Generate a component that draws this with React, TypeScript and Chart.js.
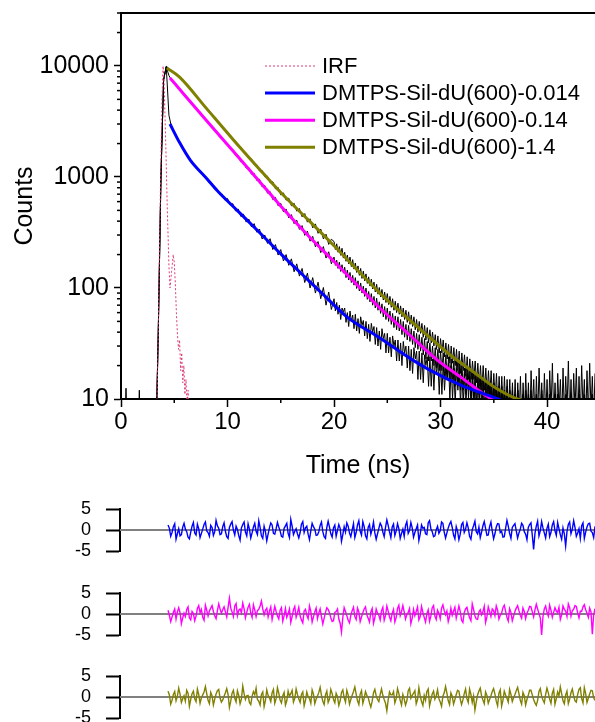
import React, { useEffect, useRef } from "react";
import { Chart, registerables } from "chart.js";

Chart.register(...registerables);

const FONT = "'Liberation Sans', Arial, Helvetica, sans-serif";

// ---------------- data ----------------
// acquisition channel times (ns)
const timeFine = [
  3.25, 3.375, 3.5, 3.625, 3.75, 3.875,
  4, 4.125, 4.25, 4.375, 4.5, 4.625, 4.75, 4.875,
  5, 5.125, 5.25, 5.375, 5.5, 5.625, 5.75, 5.875,
  6, 6.125, 6.25, 6.375, 6.5, 6.625, 6.75, 6.875,
  7, 7.125, 7.25, 7.375, 7.5, 7.625, 7.75, 7.875,
  8, 8.125, 8.25, 8.375, 8.5, 8.625, 8.75, 8.875,
  9, 9.125, 9.25, 9.375, 9.5, 9.625, 9.75, 9.875,
  10, 10.125, 10.25, 10.375, 10.5, 10.625, 10.75, 10.875,
  11, 11.125, 11.25, 11.375, 11.5, 11.625, 11.75, 11.875,
  12, 12.125, 12.25, 12.375, 12.5, 12.625, 12.75, 12.875,
  13, 13.125, 13.25, 13.375, 13.5, 13.625, 13.75, 13.875,
  14, 14.125, 14.25, 14.375, 14.5, 14.625, 14.75, 14.875,
  15, 15.125, 15.25, 15.375, 15.5, 15.625, 15.75, 15.875,
  16, 16.125, 16.25, 16.375, 16.5, 16.625, 16.75, 16.875,
  17, 17.125, 17.25, 17.375, 17.5, 17.625, 17.75, 17.875,
  18, 18.125, 18.25, 18.375, 18.5, 18.625, 18.75, 18.875,
  19, 19.125, 19.25, 19.375, 19.5, 19.625, 19.75, 19.875,
  20, 20.125, 20.25, 20.375, 20.5, 20.625, 20.75, 20.875,
  21, 21.125, 21.25, 21.375, 21.5, 21.625, 21.75, 21.875,
  22, 22.125, 22.25, 22.375, 22.5, 22.625, 22.75, 22.875,
  23, 23.125, 23.25, 23.375, 23.5, 23.625, 23.75, 23.875,
  24, 24.125, 24.25, 24.375, 24.5, 24.625, 24.75, 24.875,
  25, 25.125, 25.25, 25.375, 25.5, 25.625, 25.75, 25.875,
  26, 26.125, 26.25, 26.375, 26.5, 26.625, 26.75, 26.875,
  27, 27.125, 27.25, 27.375, 27.5, 27.625, 27.75, 27.875,
  28, 28.125, 28.25, 28.375, 28.5, 28.625, 28.75, 28.875,
  29, 29.125, 29.25, 29.375, 29.5, 29.625, 29.75, 29.875,
  30, 30.125, 30.25, 30.375, 30.5, 30.625, 30.75, 30.875,
  31, 31.125, 31.25, 31.375, 31.5, 31.625, 31.75, 31.875,
  32, 32.125, 32.25, 32.375, 32.5, 32.625, 32.75, 32.875,
  33, 33.125, 33.25, 33.375, 33.5, 33.625, 33.75, 33.875,
  34, 34.125, 34.25, 34.375, 34.5, 34.625, 34.75, 34.875,
  35, 35.125, 35.25, 35.375, 35.5, 35.625, 35.75, 35.875,
  36, 36.125, 36.25, 36.375, 36.5, 36.625, 36.75, 36.875,
  37, 37.125, 37.25, 37.375, 37.5, 37.625, 37.75, 37.875,
  38, 38.125, 38.25, 38.375, 38.5, 38.625, 38.75, 38.875,
  39, 39.125, 39.25, 39.375, 39.5, 39.625, 39.75, 39.875,
  40, 40.125, 40.25, 40.375, 40.5, 40.625, 40.75, 40.875,
  41, 41.125, 41.25, 41.375, 41.5, 41.625, 41.75, 41.875,
  42, 42.125, 42.25, 42.375, 42.5, 42.625, 42.75, 42.875,
  43, 43.125, 43.25, 43.375, 43.5, 43.625, 43.75, 43.875,
  44, 44.125, 44.25, 44.375, 44.5,
];
// decays are stored every 2nd channel before 20 ns, every channel after
const DECAY_FINE_START = 134; // index of 20 ns in timeFine
const RESID_START = 10; // index of 4.5 ns in timeFine

const preRiseTime = [0.3, 0.47, 0.62, 1.58, 1.72, 1.86];
const preRiseCounts = [4, 12.5, 4, 4, 12, 4];

// measured decay, DMTPS-Sil-dU(600)-0.014
const decayA = [
  3, 40, 1000, 7500, 9800, 3600,
  2790, 2560, 2250, 2070, 1830, 1720, 1540, 1450, 1310, 1270,
  1150, 1130, 1010, 995, 890, 885, 790, 785, 695, 700,
  620, 640, 560, 575, 495, 515, 440, 462, 392, 418,
  355, 380, 318, 340, 276, 300, 252, 278, 222, 246,
  198, 222, 175, 200, 160, 183, 140, 165, 128, 150,
  112, 136, 100, 124, 90, 113, 80, 101, 70, 92,
  64,
  80, 62, 74, 58, 70, 52, 66, 61,
  66, 49, 60, 45, 62, 50, 57, 43,
  58, 41, 53, 39, 55, 46, 51, 37,
  50, 35, 47, 33, 48, 40, 45, 31,
  44, 30, 41, 28, 43, 35, 39, 26,
  39, 26, 36, 24, 37, 30, 34, 22,
  34, 22, 32, 20, 33, 26, 30, 19,
  30, 18, 28, 17, 29, 23, 27, 15,
  27, 15, 26, 14, 25, 20, 24, 13,
  24, 13, 23, 12, 23, 17, 22, 11,
  22, 11, 21, 12, 20, 15, 21, 10,
  20, 10, 19, 9, 19, 13, 18, 9,
  18, 9, 17, 8, 17, 12, 16, 8,
  16, 8, 16, 7, 15, 11, 15, 7,
  15, 7, 14, 6, 14, 10, 13, 6,
  14, 6, 13, 6, 12, 9, 13, 5,
  12, 5, 13, 6, 11, 8, 12, 5,
  11, 5, 12, 6, 10, 8, 11, 4,
  12, 5, 10, 6, 11, 7, 10, 4,
  11, 5, 10, 5, 12, 7, 10, 4,
  10, 5, 11, 6, 10, 7, 11, 4,
  11, 5, 10, 6, 9, 7, 10, 5,
  10, 4, 11, 6, 10, 7, 9, 5,
  11, 5, 10, 6, 9, 7, 10, 4,
  10, 5, 11, 6, 9,
];
// measured decay, DMTPS-Sil-dU(600)-0.14
const decayB = [
  3, 40, 1000, 7500, 9800, 8200,
  7440, 7060, 6540, 6220, 5750, 5480, 5050, 4820, 4430, 4240,
  3890, 3730, 3400, 3290, 2990, 2900, 2620, 2570, 2300, 2270,
  2020, 2000, 1780, 1770, 1560, 1560, 1370, 1380, 1205, 1220,
  1060, 1080, 930, 955, 815, 840, 715, 740, 625, 655,
  550, 578, 485, 515, 428, 458, 380, 408, 337, 365,
  298, 325, 264, 292, 235, 262, 208, 236, 186, 212,
  165,
  190, 160, 178, 150, 171, 141, 162, 136,
  154, 124, 145, 118, 138, 112, 130, 106,
  124, 99, 116, 94, 111, 90, 104, 84,
  100, 79, 93, 75, 89, 70, 84, 66,
  81, 63, 75, 59, 72, 55, 68, 52,
  66, 50, 62, 47, 59, 44, 56, 42,
  55, 41, 52, 38, 50, 36, 47, 34,
  46, 33, 43, 31, 41, 29, 39, 28,
  38, 27, 36, 25, 35, 23, 33, 22,
  32, 22, 30, 20, 29, 19, 28, 18,
  27, 18, 26, 16, 25, 15, 24, 15,
  23, 15, 22, 13, 22, 12, 21, 12,
  20, 12, 19, 11, 19, 10, 18, 10,
  18, 10, 17, 9, 16, 9, 16, 8,
  15, 8, 15, 7, 14, 8, 13, 7,
  13, 7, 12, 6, 13, 6, 12, 6,
  12, 6, 11, 5, 12, 6, 11, 5,
  11, 5, 12, 6, 10, 5, 11, 5,
  10, 6, 11, 5, 12, 6, 10, 4,
  11, 5, 10, 6, 11, 5, 10, 5,
  10, 6, 11, 5, 10, 6, 11, 4,
  11, 5, 10, 6, 9, 5, 11, 5,
  10, 6, 11, 4, 10, 6, 9, 5,
  11, 5, 10, 6, 11, 5, 10, 4,
  10, 6, 11, 5, 9,
];
// measured decay, DMTPS-Sil-dU(600)-1.4
const decayC = [
  3, 40, 1000, 7500, 10000, 9400,
  9090, 8620, 8350, 7900, 7490, 6940, 6590, 6100, 5800, 5350,
  5100, 4700, 4490, 4120, 3950, 3620, 3480, 3180, 3060, 2790,
  2700, 2440, 2380, 2140, 2100, 1890, 1860, 1665, 1645, 1465,
  1455, 1290, 1290, 1135, 1145, 1005, 1015, 885, 905, 782,
  805, 690, 718, 618, 645, 550, 580, 492, 520, 438,
  468, 392, 420, 348, 378, 311, 340, 277, 305, 247,
  275,
  262, 222, 250, 210, 236, 197, 228, 186,
  210, 174, 198, 165, 190, 156, 180, 148,
  168, 138, 158, 130, 150, 122, 142, 116,
  134, 110, 126, 104, 120, 98, 113, 92,
  108, 88, 101, 83, 97, 78, 92, 74,
  89, 71, 84, 67, 80, 63, 76, 60,
  73, 58, 69, 55, 66, 52, 63, 49,
  61, 47, 57, 45, 55, 42, 52, 40,
  50, 39, 48, 36, 46, 34, 44, 32,
  42, 32, 40, 30, 38, 28, 37, 26,
  35, 26, 34, 24, 32, 23, 31, 21,
  30, 21, 29, 20, 28, 18, 27, 17,
  26, 18, 25, 16, 24, 15, 23, 15,
  22, 15, 22, 14, 21, 13, 20, 12,
  20, 12, 19, 11, 18, 11, 18, 10,
  17, 10, 17, 9, 16, 9, 16, 8,
  16, 8, 15, 8, 15, 7, 14, 7,
  15, 7, 14, 7, 16, 6, 14, 7,
  17, 7, 14, 6, 18, 8, 15, 6,
  16, 7, 19, 8, 14, 6, 17, 7,
  15, 6, 18, 8, 21, 7, 14, 6,
  17, 8, 15, 6, 19, 7, 16, 8,
  22, 7, 15, 6, 17, 8, 19, 6,
  16, 7, 20, 8, 15, 6, 18, 7,
  21, 8, 16, 6, 17,
];

// fitted curves
const fitATime = [4.6, 5.5, 6.5, 8, 9, 11, 13, 14.9, 17, 19, 21.2, 24.3, 27.4, 29, 32, 35.4, 35.8];
const fitA = [3000, 2040, 1420, 980, 760, 490, 316, 207, 133, 87, 55, 35.5, 22.4, 18.2, 13.2, 10, 9.6];
const fitBTime = [4.6, 6, 8, 10.5, 13, 14.9, 17.7, 20, 22.5, 24.3, 27, 29.7, 32, 34.8, 35.2];
const fitB = [7800, 5430, 3240, 1720, 912, 560, 288, 173, 99, 66, 38.5, 22.4, 15.5, 10, 9.7];
const fitCTime = [4.3, 5.5, 8, 10.5, 13, 15, 17.5, 20, 22.5, 24.3, 27, 30, 31, 33, 35, 37.2, 37.6];
const fitC = [9600, 7940, 4170, 2190, 1175, 724, 417, 240, 135, 90, 52.5, 29.5, 24.5, 17.8, 12.9, 10, 9.8];

// instrument response
const irfTime = [3.3, 3.45, 3.6, 3.75, 3.85, 3.95, 4.05, 4.2, 4.35, 4.5, 4.6, 4.75, 4.9, 5.0, 5.1, 5.2, 5.3, 5.4, 5.5, 5.6, 5.7, 5.8, 5.9, 6.0, 6.1, 6.2, 6.3, 6.4];
const irfCounts = [5, 20, 200, 1500, 5000, 10000, 7000, 2000, 500, 160, 100, 140, 200, 170, 110, 60, 38, 28, 34, 18, 26, 14, 20, 11, 15, 9, 12, 5];

// weighted residuals, timeFine from 4.5 ns on
const residA = [
  1.2, 0.4, -1.5, -0.6, 0.8, 1.5, -2.2, -0.9,
  0.3, -1.4, -1.1, 0.7, 1.6, 0.2, -0.4, -1.7,
  -2.1, -0.5, 0.9, 1.8, -0.7, -1.2, 1.4, 0.3,
  -1.8, -0.8, 0.2, 1.3, 1.9, -0.2, -0.6, -1.5,
  1.1, 0.6, -1.3, -0.4, 2.3, 1.0, 0.4, -1.1,
  -0.9, 0.8, 1.7, -0.3, -1.6, -2.0, 0.6, 1.4,
  2.0, -0.1, -1.2, 0.9, 0.1, -1.3, -2.4, 0.5,
  1.3, 1.9, -0.5, -1.4, 1.5, 0.2, -1.9, -0.7,
  0.7, 1.6, -0.3, -1.1, 2.2, 0.6, -1.4, -2.0,
  0.9, -0.4, -2.6, -1.0, 0.5, 1.7, 1.2, -0.8,
  -1.0, 0.3, 1.8, 0.7, -0.2, -1.5, -1.7, 0.4,
  1.0, 1.6, -0.8, -1.8, 2.5, 0.9, -1.1, -0.3,
  0.3, -0.9, -1.9, -0.6, 1.4, 2.0, -0.6, 0.5,
  0.9, -1.0, -2.3, -0.2, 1.6, 0.8, 0.2, -1.3,
  -1.2, -0.4, 1.1, 1.9, -0.4, -1.6, -2.0, 0.6,
  2.1, 0.7, -0.9, -1.7, 0.5, 1.2, -1.5, -0.1,
  1.3, 0.4, -2.7, -1.1, 0.8, -0.5, 1.7, 0.9,
  -0.7, -1.6, 0.0, 1.5, -1.8, -0.6, 1.2, 2.2,
  -0.3, -1.2, 2.0, 0.8, -1.4, -2.1, 0.6, 1.3,
  -1.0, 0.2, 1.9, -0.7, -2.2, -0.9, 0.4, 1.6,
  1.0, -0.5, -1.6, 0.6, 2.4, 1.1, -0.5, -1.8,
  0.7, 1.4, -1.3, -0.2, 1.5, 0.3, -2.0, -0.8,
  0.2, -1.5, 1.1, 2.0, -0.8, -0.1, 1.8, 0.5,
  -1.7, -0.6, 0.3, 1.2, -2.5, -1.0, 1.2, 0.4,
  0.6, -0.9, -1.1, 1.7, 2.2, 0.3, -0.4, -1.6,
  -1.4, 0.1, 0.9, -0.8, -0.2, 1.9, 1.6, -0.5,
  -1.9, -0.7, 0.5, 1.4, 2.0, 0.6, -1.2, -2.1,
  0.8, -0.3, -2.3, -1.0, 1.3, 1.8, -0.6, 0.2,
  1.7, 0.5, -1.5, -2.2, 0.1, 1.0, 2.1, -0.4,
  -0.9, 0.7, -1.8, -0.5, 1.0, 2.0, 0.4, -1.3,
  -1.2, 0.8, 1.9, -0.3, -2.1, -0.9, 0.7, 1.5,
  1.4, -0.6, -0.3, -1.7, -1.6, 0.4, 2.3, 0.9,
  -0.8, -2.0, 0.6, 1.1, 1.5, -0.2, -1.9, -0.7,
  0.2, 1.6, 1.1, -0.4, -1.0, -2.3, 0.6, 1.3,
  1.7, -1.2, -4.6, -0.8, 0.9, 2.1, -1.4, -0.2,
  2.0, 0.5, -0.7, -1.9, 0.4, 1.4, -1.6, -0.6,
  1.2, 2.0, -0.2, -1.3, 1.8, 0.3, -1.1, -2.2,
  0.5, -0.9, -3.8, -0.4, 1.3, 1.9, -0.9, 0.2,
  2.2, 0.6, -1.5, -0.7, 0.3, -2.0, 1.0, 1.7,
  -2.0, -0.5, 0.7, 1.5, 1.6, -0.3, -0.6, -1.8,
  0.9,
];
const residB = [
  0.9, -0.3, -1.8, -0.7, 0.4, 1.2, -1.2, 0.5,
  1.5, 0.3, -2.3, -0.9, 0.2, -0.6, 1.1, 1.7,
  -0.9, -1.4, 0.6, 0.1, -1.6, -0.5, 1.3, 2.0,
  0.3, 1.1, -0.8, -1.5, 2.1, 0.9, -0.5, 0.7,
  1.4, 2.0, 0.6, -0.4, -1.1, 0.8, 2.4, 1.2,
  0.2, 1.0, 1.7, 0.5, -0.7, 1.6, 3.8, 1.4,
  0.5, -0.6, 1.9, 2.5, -0.4, 0.9, 1.2, 0.3,
  2.6, 1.3, -0.9, 0.4, 1.6, 2.3, 0.3, -0.8,
  2.2, 1.0, -0.6, 0.8, 1.1, 1.9, 3.1, 1.2,
  -0.2, 0.9, 1.4, -0.7, 0.7, 1.7, -1.3, 0.2,
  1.8, 0.6, -0.5, -1.2, 0.9, 1.5, -1.7, -0.4,
  1.3, -0.8, 0.1, 1.2, -2.0, -0.6, 1.0, 1.8,
  -0.8, 0.3, 1.6, -0.5, -1.4, -2.1, 0.7, 1.1,
  -0.3, -1.1, 1.9, 0.6, -1.9, -0.7, 0.5, 1.4,
  -1.1, 0.2, 1.2, -0.6, -2.4, -1.0, 0.4, 1.5,
  1.1, 0.3, -0.9, -1.8, -1.6, 0.4, 0.6, 1.2,
  -1.2, -2.2, -4.3, -0.8, 1.5, 0.6, -0.4, -1.5,
  -2.1, -0.3, 0.8, 1.6, -0.6, -1.3, 1.4, 0.5,
  -1.8, -0.7, 0.3, 1.2, 1.7, -0.2, -1.0, -1.9,
  0.5, 1.3, -2.2, -0.9, 1.2, 0.2, -0.3, -1.4,
  0.8, 1.6, -1.5, -0.4, 1.9, 0.7, -0.7, -1.6,
  0.2, 1.1, -1.9, -0.8, 1.3, 2.1, -0.4, 0.6,
  2.0, 0.5, -1.2, -0.1, 0.4, 1.3, -2.3, -1.0,
  1.1, -0.4, 0.6, 1.7, -1.4, -0.6, 1.8, 0.4,
  -0.8, -1.9, 0.1, 1.0, -1.7, -0.5, 1.5, 2.0,
  -0.5, -1.3, 0.9, 0.2, -1.1, 1.4, 2.2, 0.8,
  -0.2, 0.7, -1.8, -0.6, 1.4, -0.3, 0.7, 1.6,
  -1.0, 0.4, 1.9, 0.6, -1.5, -2.0, 0.3, 1.2,
  1.6, 0.2, -0.9, -1.6, 2.4, 1.1, -0.4, -1.2,
  -1.3, 0.5, 1.0, -0.2, 0.5, 1.8, -2.0, -0.7,
  1.7, 0.6, -0.6, 1.2, 0.8, -0.4, 1.9, 0.9,
  -1.2, -0.3, 0.2, 1.5, 2.1, 0.7, -0.8, -1.7,
  1.3, 0.4, -1.6, -0.5, 0.6, 1.4, 2.0, 0.8,
  -0.3, -1.0, 1.4, 0.6, -1.1, 0.2, 0.9, 1.8,
  1.7, 0.5, -0.7, 1.0, 2.3, 1.2, 0.1, -0.9,
  -5.0, -0.6, 1.2, 1.9, 0.4, -0.5, 2.1, 0.9,
  -0.8, 0.4, 1.5, 0.7, 0.3, 1.6, -1.3, -0.2,
  1.9, 1.1, 0.7, -0.6, 2.4, 1.5, -0.5, 0.8,
  1.1, 2.0, 1.8, 0.3, -0.9, 0.7, 0.6, 1.7,
  2.2, 1.0, 0.2, -0.8, 1.4, 0.5, -4.8, -0.2,
  1.3,
];
const residC = [
  1.4, 0.5, -1.7, -0.8, 0.6, 1.3, -0.9, 0.2,
  2.1, 0.7, -1.3, -0.4, 0.3, -1.0, 1.6, 0.9,
  -2.2, -0.6, 0.8, 1.4, -0.4, -1.1, 1.9, 0.6,
  -1.5, -0.2, 0.5, 1.2, 2.5, 0.8, -0.8, -1.6,
  1.1, 0.3, -1.9, -0.5, 0.7, 1.5, 1.8, -0.3,
  -1.2, -0.7, 0.2, 1.0, 2.0, 0.6, -2.5, -1.0,
  0.9, 1.6, -0.3, -1.2, 1.5, 0.4, -1.6, -0.5,
  2.6, 0.8, -0.6, 0.3, 0.4, -1.3, -1.8, 0.2,
  1.3, 0.5, 2.1, -0.6, -1.0, -1.9, 0.6, 1.2,
  -2.3, -0.8, 1.7, 0.4, -0.2, -1.1, 1.0, 1.8,
  -1.5, -0.4, 2.2, 0.9, -0.7, -1.4, 0.3, 1.1,
  -1.9, -0.9, 1.4, 0.2, 0.8, 1.6, -1.2, -0.3,
  1.9, 0.6, -0.5, -1.3, 0.6, 1.2, -2.1, -0.8,
  1.2, 0.1, -0.4, -1.5, 1.7, 0.7, -1.6, -0.5,
  0.2, 1.1, 2.3, 0.4, -1.0, -1.8, 0.5, 1.4,
  -1.3, -0.5, 1.8, 0.8, -0.6, -1.4, 0.9, 0.1,
  -2.0, -0.9, 1.1, 1.7, -0.2, -1.2, 1.6, 0.5,
  -1.7, -0.6, 0.4, 1.3, 2.4, 0.7, -0.9, -1.8,
  0.7, 1.5, -1.5, -0.3, 1.3, 0.4, -0.1, -1.4,
  -2.4, -1.0, 1.0, 1.8, 0.3, -0.6, -1.1, 0.6,
  1.9, 0.4, -0.6, -1.5, -3.3, -0.7, 1.2, 0.5,
  0.5, 1.3, -1.4, -0.4, 2.0, 0.8, -0.8, -1.9,
  0.6, -0.5, -1.9, -0.9, 1.5, 2.1, -0.3, 0.4,
  0.9, 1.5, -1.6, -0.6, 2.2, 0.3, -1.1, -2.0,
  0.4, -0.8, 1.3, 1.9, -2.1, -0.7, 0.7, 1.4,
  -0.5, 0.3, 1.7, -0.4, -1.2, -2.2, 0.2, 1.0,
  2.5, 0.9, -0.9, -1.8, 1.0, 0.2, -1.7, -0.6,
  0.6, 1.6, 1.4, -0.5, -1.8, -0.7, 0.8, 1.9,
  -0.4, -1.3, 1.9, 0.6, -1.3, 0.2, -3.1, -1.2,
  0.5, 1.4, 2.1, 0.3, -0.7, -1.6, 1.2, 0.4,
  -1.5, -0.6, 0.3, 1.3, 2.0, 0.7, -1.0, -2.1,
  0.9, 1.7, -2.2, -0.8, 1.4, 0.5, -0.3, -1.2,
  1.8, 0.6, -1.1, -0.2, 0.6, 1.5, 2.3, 0.8,
  -0.8, -1.7, 1.1, 0.3, -1.9, -0.6, 0.4, 1.6,
  1.6, 0.5, -0.6, -1.4, -2.0, -0.8, 1.3, 2.0,
  0.2, -0.7, -1.4, 0.6, 2.1, 1.0, -0.5, -1.5,
  0.9, 1.8, -1.7, -0.4, 1.2, 0.3, 2.4, 0.8,
  -0.9, -1.6, 0.5, 1.4, -1.6, -0.5, 1.0, 1.9,
  0.3, -0.9, -1.2, 0.6, 1.8, 2.2, -0.4, -1.4,
  2.2, 0.8, -1.3, -0.3, 0.7, 1.6, 1.5, -0.2,
  -0.8,
];

const xMajorTicks = [0, 10, 20, 30, 40];
const xMinorTicks = [5, 15, 25, 35];
const yMajorTicks = [10, 100, 1000, 10000];
const yMinorTicks = [
  20, 30, 40, 50, 60, 70, 80, 90,
  200, 300, 400, 500, 600, 700, 800, 900,
  2000, 3000, 4000, 5000, 6000, 7000, 8000, 9000,
  20000, 30000,
];
const residTicks = [-5, 0, 5];
const legendLabels = ["IRF", "DMTPS-Sil-dU(600)-0.014", "DMTPS-Sil-dU(600)-0.14", "DMTPS-Sil-dU(600)-1.4"];

const X_MIN = 0;
const X_MAX = 44.5;

const BLUE = "#0000FF";
const MAGENTA = "#FF00FF";
const OLIVE = "#808000";
const IRF_COLOR = "#DC3C78";

// ---------------- helpers ----------------
const pts = (xs: number[], ys: number[]) => xs.map((x, i) => ({ x, y: ys[i] }));

const decayTime = [
  ...timeFine.slice(0, DECAY_FINE_START).filter((_, i) => i % 2 === 0),
  ...timeFine.slice(DECAY_FINE_START),
];
const residTime = timeFine.slice(RESID_START);

const zeroPad = (s: any) => {
  s.paddingLeft = 0;
  s.paddingRight = 0;
  s.paddingTop = 0;
  s.paddingBottom = 0;
};

const mainPlugin = {
  id: "mainDecor",
  afterDraw(chart: any) {
    const { ctx, chartArea } = chart;
    const xs = chart.scales.x;
    const ys = chart.scales.y;
    ctx.save();
    ctx.strokeStyle = "#000";
    ctx.lineWidth = 2;
    ctx.beginPath();
    ctx.moveTo(chartArea.left - 1, chartArea.top);
    ctx.lineTo(chartArea.right, chartArea.top);
    ctx.stroke();
    ctx.lineWidth = 1.5;
    yMinorTicks.forEach((v) => {
      const p = ys.getPixelForValue(v);
      if (p < chartArea.top - 0.5 || p > chartArea.bottom + 0.5) return;
      ctx.beginPath();
      ctx.moveTo(chartArea.left - 4, p);
      ctx.lineTo(chartArea.left, p);
      ctx.stroke();
    });
    xMinorTicks.forEach((v) => {
      const p = xs.getPixelForValue(v);
      ctx.beginPath();
      ctx.moveTo(p, chartArea.bottom);
      ctx.lineTo(p, chartArea.bottom + 4);
      ctx.stroke();
    });
    const items = [
      { color: IRF_COLOR, width: 1, dash: [2, 2] },
      { color: BLUE, width: 3, dash: [] as number[] },
      { color: MAGENTA, width: 3, dash: [] as number[] },
      { color: OLIVE, width: 3, dash: [] as number[] },
    ];
    ctx.font = `22px ${FONT}`;
    ctx.textBaseline = "middle";
    ctx.textAlign = "left";
    items.forEach((it, i) => {
      const y = 66 + i * 27.1;
      ctx.beginPath();
      ctx.setLineDash(it.dash);
      ctx.strokeStyle = it.color;
      ctx.lineWidth = it.width;
      ctx.moveTo(265, y);
      ctx.lineTo(315, y);
      ctx.stroke();
      ctx.setLineDash([]);
      ctx.fillStyle = "#000";
      ctx.fillText(legendLabels[i], 322, y + 1);
    });
    ctx.restore();
  },
};

const zeroLinePlugin = {
  id: "zeroLine",
  beforeDatasetsDraw(chart: any) {
    const { ctx, chartArea } = chart;
    const p = chart.scales.y.getPixelForValue(0);
    ctx.save();
    ctx.strokeStyle = "#808080";
    ctx.lineWidth = 2;
    ctx.beginPath();
    ctx.moveTo(chartArea.left, p);
    ctx.lineTo(chartArea.right, p);
    ctx.stroke();
    ctx.restore();
  },
};

function MainChart() {
  const ref = useRef<HTMLCanvasElement | null>(null);
  useEffect(() => {
    if (!ref.current) return;
    const line = (data: any, color: string, width: number, order: number, extra: any = {}) => ({
      data,
      borderColor: color,
      borderWidth: width,
      pointRadius: 0,
      fill: false,
      tension: 0,
      order,
      ...extra,
    });
    const smooth = { cubicInterpolationMode: "monotone" };
    const chart = new Chart(ref.current, {
      type: "line",
      data: {
        datasets: [
          line(pts(fitATime, fitA), BLUE, 3, 0, smooth),
          line(pts(fitBTime, fitB), MAGENTA, 3, 0, smooth),
          line(pts(fitCTime, fitC), OLIVE, 3, 0, smooth),
          line(pts(irfTime, irfCounts), IRF_COLOR, 1, 1, { borderDash: [2, 2] }),
          line(pts([...preRiseTime, ...decayTime], [...preRiseCounts, ...decayA]), "#000", 1, 2),
          line(pts(decayTime, decayB), "#000", 1, 2),
          line(pts(decayTime, decayC), "#000", 1, 2),
        ] as any,
      },
      options: {
        animation: false,
        responsive: false,
        maintainAspectRatio: false,
        layout: { padding: { top: 13, left: 0, right: 0, bottom: 0 } },
        plugins: { legend: { display: false }, tooltip: { enabled: false } },
        scales: {
          x: {
            type: "linear",
            min: X_MIN,
            max: X_MAX,
            afterBuildTicks: (s: any) => {
              s.ticks = xMajorTicks.map((v) => ({ value: v }));
            },
            afterFit: (s: any) => {
              s.height = 86;
              zeroPad(s);
            },
            grid: { drawOnChartArea: false, drawTicks: true, tickLength: 8, tickWidth: 1.5, tickColor: "#000" },
            border: { display: true, color: "#000", width: 2 },
            ticks: {
              color: "#000",
              font: { family: FONT, size: 24 },
              padding: 1,
              maxRotation: 0,
              autoSkip: false,
              callback: (v: any) => String(v),
            },
            title: {
              display: true,
              text: "Time (ns)",
              color: "#000",
              font: { family: FONT, size: 25 },
              padding: { top: 0, bottom: 4 },
            },
          },
          y: {
            type: "logarithmic",
            min: 10,
            max: 30000,
            afterBuildTicks: (s: any) => {
              s.ticks = yMajorTicks.map((v) => ({ value: v }));
            },
            afterFit: (s: any) => {
              s.width = 121;
              zeroPad(s);
            },
            grid: { drawOnChartArea: false, drawTicks: true, tickLength: 7, tickWidth: 1.5, tickColor: "#000" },
            border: { display: true, color: "#000", width: 2 },
            ticks: {
              color: "#000",
              font: { family: FONT, size: 25 },
              padding: 5,
              autoSkip: false,
              callback: (v: any) => String(v),
            },
            title: {
              display: true,
              text: "Counts",
              color: "#000",
              font: { family: FONT, size: 25 },
              padding: { top: 10, bottom: 0 },
            },
          },
        },
      } as any,
      plugins: [mainPlugin],
    });
    return () => chart.destroy();
  }, []);
  return <canvas ref={ref} width={595} height={485} style={{ position: "absolute", left: 0, top: 0, display: "block" }} />;
}

function ResidualChart({ values, color, top }: { values: number[]; color: string; top: number }) {
  const ref = useRef<HTMLCanvasElement | null>(null);
  useEffect(() => {
    if (!ref.current) return;
    const chart = new Chart(ref.current, {
      type: "line",
      data: {
        datasets: [
          {
            data: pts(residTime, values),
            borderColor: color,
            borderWidth: 1.4,
            pointRadius: 0,
            fill: false,
            tension: 0,
            clip: false,
          },
        ] as any,
      },
      options: {
        animation: false,
        responsive: false,
        maintainAspectRatio: false,
        layout: { padding: { top: 20, bottom: 20, left: 0, right: 0 } },
        plugins: { legend: { display: false }, tooltip: { enabled: false } },
        scales: {
          x: { type: "linear", min: X_MIN, max: X_MAX, display: false },
          y: {
            type: "linear",
            min: -5,
            max: 5,
            afterBuildTicks: (s: any) => {
              s.ticks = residTicks.map((v) => ({ value: v }));
            },
            afterFit: (s: any) => {
              s.width = 120;
              zeroPad(s);
            },
            grid: { drawOnChartArea: false, drawTicks: true, tickLength: 14, tickWidth: 2, tickColor: "#000" },
            border: { display: true, color: "#000", width: 2 },
            ticks: {
              color: "#000",
              font: { family: FONT, size: 18 },
              padding: 15,
              autoSkip: false,
              callback: (v: any) => String(v),
            },
          },
        },
      } as any,
      plugins: [zeroLinePlugin],
    });
    return () => chart.destroy();
  }, [values, color]);
  return <canvas ref={ref} width={595} height={82} style={{ position: "absolute", left: 0, top, display: "block" }} />;
}

export default function App() {
  return (
    <div
      style={{
        position: "fixed",
        left: 0,
        top: 0,
        width: 595,
        height: 722,
        overflow: "hidden",
        background: "#fff",
      }}
    >
      <MainChart />
      <ResidualChart values={residA} color={BLUE} top={489} />
      <ResidualChart values={residB} color={MAGENTA} top={573} />
      <ResidualChart values={residC} color={OLIVE} top={656} />
    </div>
  );
}
